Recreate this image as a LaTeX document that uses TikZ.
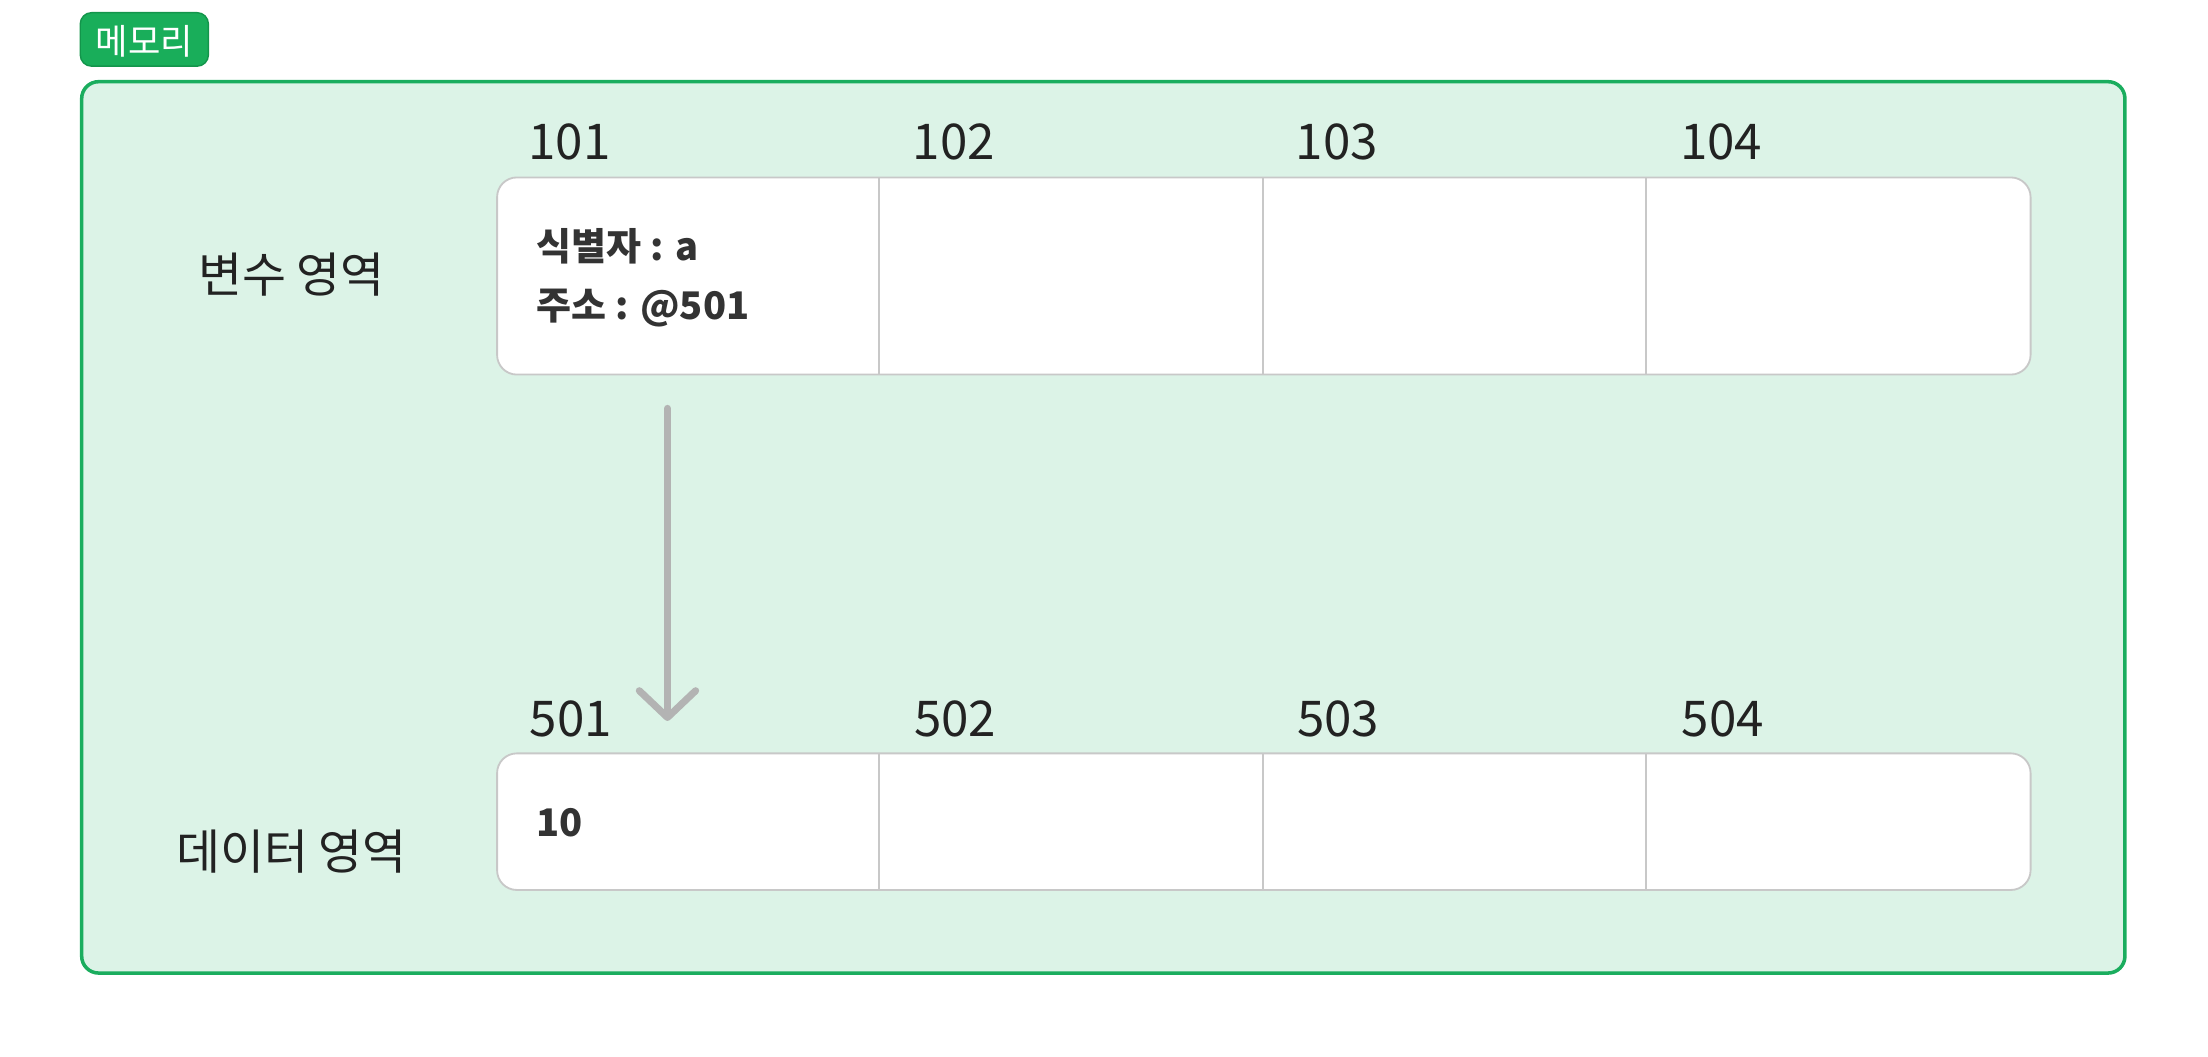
\documentclass[tikz,border=0pt]{standalone}
\usepackage{fontspec}
\setmainfont{Noto Sans CJK KR}
\usetikzlibrary{arrows.meta}
\definecolor{grnline}{HTML}{1AAD5E}
\definecolor{grnfill}{HTML}{DCF3E7}
\definecolor{badgefill}{HTML}{19AE5A}
\definecolor{badgeline}{HTML}{13954B}
\definecolor{cellline}{HTML}{C8C8C8}
\definecolor{arrgray}{HTML}{B3B3B3}
\definecolor{txtdark}{HTML}{222222}
\definecolor{txtbold}{HTML}{333333}
\tikzset{
  outerbox/.style={draw=grnline, fill=grnfill, line width=2.5pt, rounded corners=12pt},
  badge/.style={draw=badgeline, fill=badgefill, line width=1pt, rounded corners=8pt},
  rowbox/.style={draw=cellline, fill=white, line width=1.3pt, rounded corners=14pt},
  divline/.style={draw=cellline, line width=1.3pt},
  addr/.style={anchor=base west, inner sep=0pt, text=txtdark, font=\fontsize{35}{38}\selectfont},
  area/.style={anchor=center, inner sep=0pt, text=txtdark, font=\fontsize{34}{38}\selectfont},
  celltext/.style={anchor=base west, inner sep=0pt, text=txtbold, font=\bfseries\fontsize{27}{30}\selectfont},
  pointer/.style={draw=arrgray, line width=5pt, line cap=round, -{Straight Barb[length=19pt, width=40pt, line cap=round, line join=round]}}
}
\begin{document}
\begin{tikzpicture}[x=1pt,y=-1pt]
\useasboundingbox (0,0) rectangle (1568,750);
% outer memory box
\path[outerbox] (58,58) rectangle (1509,691);
% badge
\path[badge] (57,9) rectangle (148,47);
\node[anchor=center, inner sep=0pt, text=white, font=\fontsize{25}{28}\selectfont] (badgetxt) at (102.5,29) {메모리};
% area labels
\node[area] (varlbl) at (207,195) {변수 영역};
\node[area] (datalbl) at (207,605) {데이터 영역};
% top row
\path[rowbox] (353,126) rectangle (1442,266);
\draw[divline] (624,126) -- (624,266);
\draw[divline] (897,126) -- (897,266);
\draw[divline] (1169,126) -- (1169,266);
% bottom row
\path[rowbox] (353,535) rectangle (1442,632);
\draw[divline] (624,535) -- (624,632);
\draw[divline] (897,535) -- (897,632);
\draw[divline] (1169,535) -- (1169,632);
% address labels
\node[addr] (a101) at (375,113) {101};
\node[addr] (a102) at (648,113) {102};
\node[addr] (a103) at (920,113) {103};
\node[addr] (a104) at (1193,113) {104};
\node[addr] (a501) at (376,523) {501};
\node[addr] (a502) at (649,523) {502};
\node[addr] (a503) at (921,523) {503};
\node[addr] (a504) at (1194,523) {504};
% cell contents
\node[celltext] (ident) at (381,185) {식별자 : a};
\node[celltext] (addrv) at (381,227) {주소 : @501};
\node[celltext] (val) at (381,594) {10};
% pointer arrow
\coordinate (arrS) at (474,290);
\coordinate (arrE) at (474,512);
\draw[pointer] (arrS) -- (arrE);
\end{tikzpicture}
\end{document}
